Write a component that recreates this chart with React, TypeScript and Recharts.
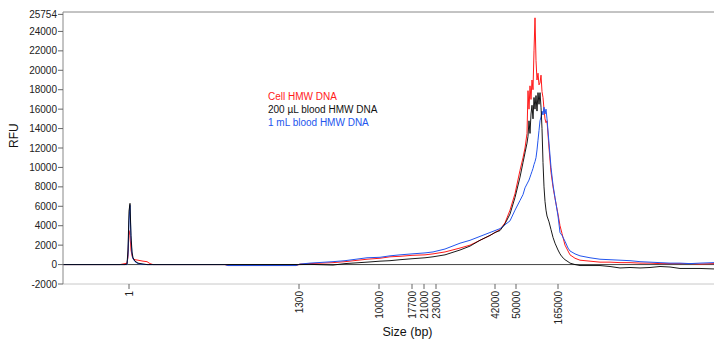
import React from "react";
import {
  LineChart,
  Line,
  XAxis,
  YAxis,
  ReferenceLine,
} from "recharts";

// scan position (migration) of each sample
const scan = [
  0, 57, 62, 64, 65, 66, 67, 68, 69, 70, 72, 75, 80, 84, 87, 90, 162, 165, 233,
  237, 247, 270, 282, 304, 317, 327, 337, 349, 362, 370, 382, 397, 407, 417,
  427, 432, 437, 442, 447, 452, 457, 460, 462, 464, 465, 466, 467, 468, 469,
  470, 471, 472, 473, 474, 475, 476, 477, 478, 479, 480, 481, 482, 483, 484,
  486, 488, 490, 492, 495, 497, 499, 502, 505, 507, 512, 517, 527, 537, 547,
  557, 567, 577, 587, 597, 607, 617, 627, 637, 651,
];

const cellHmw = [
  0, 0, 100, 150, 800, 3500, 3000, 1500, 900, 600, 500, 450, 350, 300, 100, 0,
  0, -100, -100, 50, 100, 200, 300, 550, 650, 800, 850, 950, 1000, 1100, 1300,
  1700, 2000, 2500, 3000, 3300, 3600, 4300, 5600, 7300, 9700, 11000, 12000,
  13500, 17900, 16000, 18400, 17000, 19000, 18000, 22000, 25400, 21000, 19000,
  19700, 18500, 18700, 19500, 17800, 17200, 16000, 15000, 14600, 14800, 12000,
  9500, 8000, 6800, 5200, 4000, 3200, 2000, 1400, 1000, 650, 450, 350, 250,
  250, 200, 200, 150, 150, 100, 100, 100, 100, 50, 100,
];

const blood200 = [
  0, 0, 0, 50, 1500, 5500, 6300, 3000, 1300, 700, 350, 150, 50, 0, 0, 0, 0, 0,
  0, 0, 20, -50, 100, 250, 350, 400, 500, 600, 700, 800, 1000, 1500, 1900,
  2500, 3000, 3300, 3500, 4200, 5200, 6900, 9000, 10500, 11500, 12500, 13200,
  14800, 13500, 15500, 16400, 15000, 17200, 16000, 17400, 15800, 17700, 16500,
  17700, 16200, 14000, 10500, 8000, 6500, 5600, 5000, 4400, 3600, 2800, 2200,
  1500, 1100, 800, 500, 300, 150, 0, -100, -100, -100, -200, -350, -300, -350,
  -300, -200, -250, -400, -400, -400, -450,
];

const blood1ml = [
  0, 0, 0, 0, 1000, 4500, 6100, 2500, 1100, 600, 300, 100, 30, 0, 0, 0, 0,
  -100, -100, 50, 150, 300, 400, 700, 750, 900, 1000, 1100, 1200, 1300, 1600,
  2200, 2500, 2900, 3300, 3500, 3700, 4100, 4500, 5600, 6600, 7200, 7900, 8300,
  8500, 8700, 9000, 9300, 9600, 9900, 10300, 10600, 11000, 11800, 12800, 13800,
  14800, 15200, 15800, 15400, 16200, 15500, 16000, 15000, 12500, 10000, 8200,
  6900, 5000, 3300, 3000, 2400, 1700, 1400, 1100, 900, 700, 550, 500, 450, 400,
  300, 250, 200, 150, 150, 100, 150, 200,
];

// size standard ladder
const ladderScan = [66, 236, 316, 349, 361, 373, 432, 453, 495];
const ladderLabels = [
  "1", "1300", "10000", "17700", "21000", "23000", "42000", "50000", "165000",
];

const rfuTicks = [
  -2000, 0, 2000, 4000, 6000, 8000, 10000, 12000, 14000, 16000, 18000, 20000,
  22000, 24000, 25754,
];

const data = scan.map((s, i) => ({
  scan: s,
  cell: cellHmw[i],
  b200: blood200[i],
  b1: blood1ml[i],
}));

const font = "'Liberation Sans', Arial, sans-serif";

const SizeTick = (props: any) => {
  const { x, y, payload } = props;
  const idx = ladderScan.indexOf(payload.value);
  return (
    <text
      x={x}
      y={y}
      transform={`rotate(-90, ${x}, ${y})`}
      textAnchor="end"
      dominantBaseline="central"
      fontSize={10}
      fill="#222"
      fontFamily={font}
    >
      {ladderLabels[idx]}
    </text>
  );
};

export default function App() {
  return (
    <div
      style={{
        position: "absolute",
        left: 0,
        top: 0,
        width: 714,
        height: 346,
        fontFamily: font,
        background: "#fff",
      }}
    >
      <LineChart
        width={714}
        height={346}
        data={data}
        margin={{ top: 12, right: 0, bottom: 0, left: 0 }}
      >
        <XAxis
          dataKey="scan"
          type="number"
          domain={[0, 651]}
          allowDataOverflow
          ticks={ladderScan}
          tick={<SizeTick />}
          tickSize={5}
          tickMargin={2}
          height={62}
          interval={0}
          axisLine={{ stroke: "#c8c8c8" }}
          tickLine={{ stroke: "#666" }}
          label={{
            value: "Size (bp)",
            position: "insideBottom",
            offset: 10,
            fontSize: 12.5,
            fill: "#111",
            fontFamily: font,
            dx: 19,
          }}
        />
        <YAxis
          type="number"
          domain={[-2000, 26000]}
          allowDataOverflow
          ticks={rfuTicks}
          interval={0}
          width={63}
          tickSize={5}
          tickMargin={1}
          axisLine={{ stroke: "#888" }}
          tickLine={{ stroke: "#666" }}
          tick={{ fontSize: 10, fill: "#222", fontFamily: font }}
          label={{
            value: "RFU",
            angle: -90,
            position: "insideLeft",
            offset: 0,
            dx: 14,
            fontSize: 12,
            fill: "#111",
            fontFamily: font,
          }}
        />
        <ReferenceLine y={26000} stroke="#888" />
        <ReferenceLine y={0} stroke="#444" />
        <Line
          dataKey="cell"
          stroke="#ff1a1a"
          strokeWidth={1}
          dot={false}
          type="linear"
          isAnimationActive={false}
        />
        <Line
          dataKey="b1"
          stroke="#2255ee"
          strokeWidth={1}
          dot={false}
          type="linear"
          isAnimationActive={false}
        />
        <Line
          dataKey="b200"
          stroke="#000"
          strokeWidth={0.9}
          dot={false}
          type="linear"
          isAnimationActive={false}
        />
      </LineChart>
      <div
        style={{
          position: "absolute",
          left: 268,
          top: 90,
          fontSize: 10,
          lineHeight: "13px",
        }}
      >
        <div style={{ color: "#ff1a1a" }}>Cell HMW DNA</div>
        <div style={{ color: "#111" }}>200 µL blood HMW DNA</div>
        <div style={{ color: "#2255ee" }}>1 mL blood HMW DNA</div>
      </div>
    </div>
  );
}
